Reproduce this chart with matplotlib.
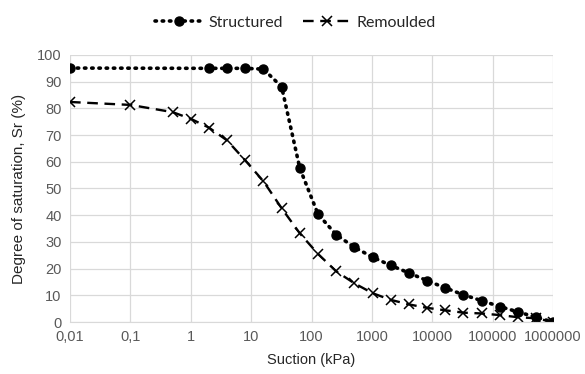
import matplotlib.pyplot as plt

# suction (kPa) and degree of saturation (%)
s_struct = [0.01, 2, 4, 8, 16, 32, 64, 128, 256, 512, 1024, 2048, 4096, 8192,
            16384, 32768, 65536, 131072, 262144, 524288, 1000000]
sr_struct = [95.1, 95.0, 95.0, 95.0, 94.7, 88.1, 57.6, 40.4, 32.7, 28.0, 24.3,
             21.2, 18.4, 15.5, 12.8, 10.2, 8.0, 5.8, 3.8, 1.8, 0.0]

s_remould = [0.01, 0.1, 0.5, 1, 2, 4, 8, 16, 32, 64, 128, 256, 512, 1024, 2048,
             4096, 8192, 16384, 32768, 65536, 131072, 262144, 524288, 1000000]
sr_remould = [82.4, 81.3, 78.6, 76.1, 72.8, 68.0, 60.5, 52.7, 42.6, 33.2, 25.5,
              19.0, 14.5, 10.8, 8.3, 6.6, 5.3, 4.4, 3.5, 3.2, 2.6, 1.8, 1.4, 0.0]

xticks = [0.01, 0.1, 1, 10, 100, 1000, 10000, 100000, 1000000]
xtick_labels = ['0,01', '0,1', '1', '10', '100', '1000', '10000', '100000', '1000000']
yticks = [0, 10, 20, 30, 40, 50, 60, 70, 80, 90, 100]

plt.rcParams['font.family'] = ['Liberation Sans', 'DejaVu Sans']

fig = plt.figure(figsize=(5.85, 3.74), dpi=100)
ax = fig.add_axes([0.1197, 0.139, 0.8256, 0.714])

ax.plot(s_struct, sr_struct, linestyle=(0, (0.4, 1.6)), dash_capstyle='round',
        color='black', linewidth=2.6, marker='o', markersize=6.5, label='Structured')
ax.plot(s_remould, sr_remould, linestyle=(0, (4.5, 2.8)), color='black',
        linewidth=1.7, marker='x', markersize=7, markeredgewidth=1.1, label='Remoulded')

ax.set_xscale('log')
ax.set_xlim(0.01, 1000000)
ax.set_ylim(0, 100)
ax.set_xticks(xticks)
ax.set_xticklabels(xtick_labels)
ax.minorticks_off()
ax.set_yticks(yticks)

ax.grid(True, color='#d9d9d9', linewidth=0.9)
ax.set_axisbelow(True)
for side in ['top', 'right', 'left']:
    ax.spines[side].set_visible(False)
ax.spines['bottom'].set_color('#d9d9d9')
ax.tick_params(length=0, labelsize=10.5, labelcolor='#595959', pad=6)

ax.set_xlabel('Suction (kPa)', fontsize=10.5, color='#262626', labelpad=6)
ax.set_ylabel('Degree of saturation, Sr (%)', fontsize=11, color='#262626', labelpad=8)

leg = fig.legend(loc='center', bbox_to_anchor=(0.505, 0.94), ncol=2, frameon=False,
                 prop={'family': 'Lato', 'size': 11.5}, handlelength=3.0, columnspacing=1.2,
                 handletextpad=0.4)
for t in leg.get_texts():
    t.set_color('#262626')

fig.savefig('out.png', dpi=100)
